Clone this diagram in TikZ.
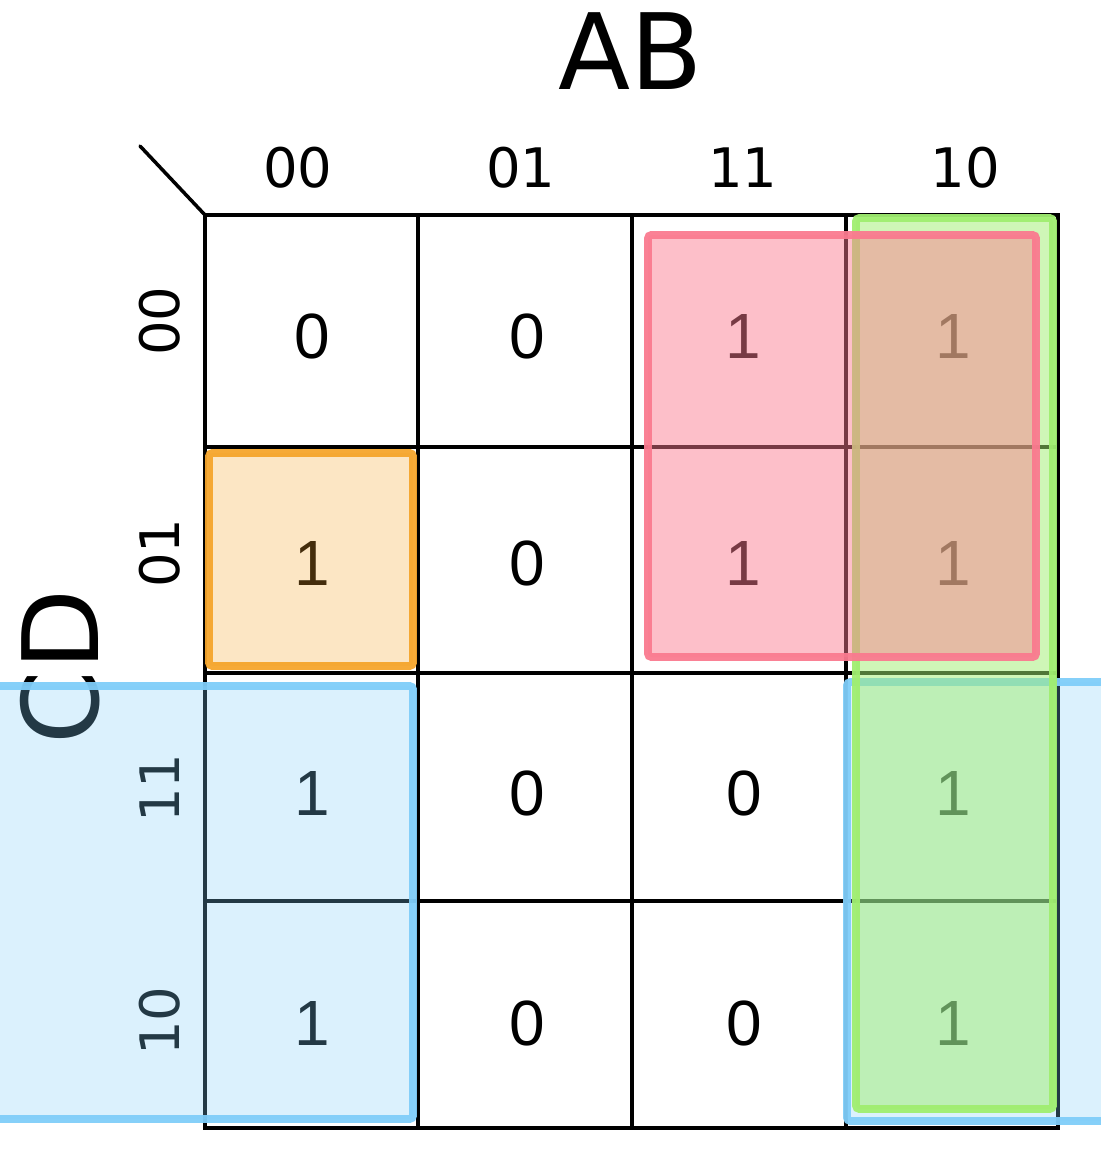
\documentclass[tikz,border=0pt]{standalone}
\usepackage{fontspec}
\setmainfont{DejaVu Sans}
\newfontfamily\cellfont{Liberation Sans}
\usepackage{tikz}
\usetikzlibrary{positioning}

\definecolor{kblue}{HTML}{7FCDF9}
\definecolor{kred}{HTML}{FA7A8F}
\definecolor{kgreen}{HTML}{A0EE70}
\definecolor{korange}{HTML}{F5A52C}

\tikzset{
  gridline/.style={line width=2pt},
  varname/.style={font=\fontsize{60}{68}\selectfont},
  code/.style={font=\fontsize{31}{36}\selectfont},
  val/.style={font=\cellfont\fontsize{36.4}{40}\selectfont},
  group/.style={line width=4.5pt, rounded corners=2pt, draw opacity=0.95},
}

\begin{document}
\begin{tikzpicture}[x=0.02cm, y=-0.02cm]
        \useasboundingbox (0,0) rectangle (1100,1152);
        % Grid
        \coordinate (tl) at (205,215);
        \coordinate (br) at (1058,1128);
        \coordinate (corner) at (140,146);
        \draw[gridline] (tl) rectangle (br);
        \draw[gridline] (418,215) -- (418,1128);
        \draw[gridline] (632,215) -- (632,1128);
        \draw[gridline] (846,215) -- (846,1128);
        \draw[gridline] (205,447) -- (1058,447);
        \draw[gridline] (205,673) -- (1058,673);
        \draw[gridline] (205,901) -- (1058,901);
        \draw[gridline, line cap=round] (corner) -- (tl);
        % Variable names
        \node[varname] (ab) at (631,51) {AB};
        \node[varname, rotate=90] (cd) at (60,667) {CD};
        % Column codes
        \node[code] (ab00) at (298,168) {00};
        \node[code] (ab01) at (521,168) {01};
        \node[code] (ab11) at (743,168) {11};
        \node[code] (ab10) at (965,168) {10};
        % Row codes
        \node[code, rotate=90] (cd00) at (160,321) {00};
        \node[code, rotate=90] (cd01) at (160,553) {01};
        \node[code, rotate=90] (cd11) at (160,788) {11};
        \node[code, rotate=90] (cd10) at (160,1021) {10};
        % Cell values
        \node[val] (v00) at (312,336) {0};
        \node[val] (v01) at (527,336) {0};
        \node[val] (v02) at (743,336) {1};
        \node[val] (v03) at (953,336) {1};
        \node[val] (v10) at (312,563) {1};
        \node[val] (v11) at (527,563) {0};
        \node[val] (v12) at (743,563) {1};
        \node[val] (v13) at (953,563) {1};
        \node[val] (v20) at (312,793) {1};
        \node[val] (v21) at (527,793) {0};
        \node[val] (v22) at (744,793) {0};
        \node[val] (v23) at (953,793) {1};
        \node[val] (v30) at (312,1023) {1};
        \node[val] (v31) at (527,1023) {0};
        \node[val] (v32) at (744,1023) {0};
        \node[val] (v33) at (953,1023) {1};
        % Groups
        \draw[group, draw=kblue, fill=kblue, fill opacity=0.28] (-30,686) rectangle (413,1119);
        \draw[group, draw=kblue, fill=kblue, fill opacity=0.28] (847,682) rectangle (1130,1121);
        \draw[group, draw=kgreen, fill=kgreen, fill opacity=0.5] (856,218) rectangle (1053,1109);
        \draw[group, draw=kred, fill=kred, fill opacity=0.48] (648,235) rectangle (1036,657);
        \draw[group, draw=korange, fill=korange, fill opacity=0.28] (209,453) rectangle (413,666);
\end{tikzpicture}
\end{document}
